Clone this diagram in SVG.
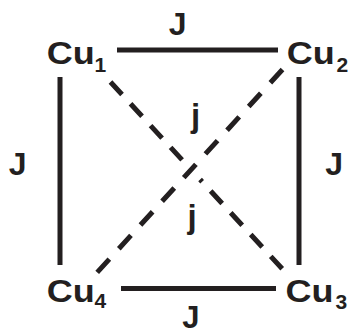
<svg xmlns="http://www.w3.org/2000/svg" width="351" height="334" viewBox="0 0 351 334">
<style>
.lbl{font-family:"Liberation Sans",Arial,sans-serif;font-weight:bold;fill:#231f20}
.cu{font-size:31px}
.sub{font-size:21px}
.J{font-size:32px;text-anchor:middle}
.j{font-size:33px;text-anchor:middle}
.solid{stroke:#231f20;stroke-width:5;fill:none}
.dash{stroke:#231f20;stroke-width:5;fill:none;stroke-linecap:butt}
</style>
<rect width="351" height="334" fill="#ffffff"/>
<g id="connectors">
  <line class="solid" x1="117" y1="50" x2="278" y2="50"/>
  <line class="solid" x1="121" y1="288.5" x2="276" y2="288.5"/>
  <line class="solid" x1="60" y1="77" x2="60" y2="265"/>
  <line class="solid" x1="299" y1="77" x2="299" y2="265"/>
  <line class="dash" x1="110.5" y1="82" x2="282.2" y2="268.8" stroke-dasharray="17 12.6 17 12.6 17 12.6 17 26.6 3 12.6 17 12.6 17 12.6 17 12.6 17"/>
  <line class="dash" x1="282.5" y1="69.5" x2="97.2" y2="272.4" stroke-dasharray="18 14.1"/>
</g>
<g id="Cu1">
  <text class="lbl cu" x="46.8" y="63.8" textLength="48" lengthAdjust="spacingAndGlyphs">Cu</text>
  <text class="lbl sub" x="94.5" y="71.5">1</text>
</g>
<g id="Cu2">
  <text class="lbl cu" x="286.8" y="63.8" textLength="48" lengthAdjust="spacingAndGlyphs">Cu</text>
  <text class="lbl sub" x="336.6" y="71.5">2</text>
</g>
<g id="Cu3">
  <text class="lbl cu" x="285.4" y="301.8" textLength="48" lengthAdjust="spacingAndGlyphs">Cu</text>
  <text class="lbl sub" x="335.4" y="308.5">3</text>
</g>
<g id="Cu4">
  <text class="lbl cu" x="46.8" y="301.8" textLength="48" lengthAdjust="spacingAndGlyphs">Cu</text>
  <text class="lbl sub" x="94.6" y="308.3">4</text>
</g>
<g id="labels">
  <text class="lbl J" x="177.6" y="35.2">J</text>
  <text class="lbl J" x="17.6" y="174.5">J</text>
  <text class="lbl J" x="334.2" y="174.5">J</text>
  <text class="lbl J" x="190.9" y="327.5" style="font-size:31px">J</text>
  <text class="lbl j" x="195.5" y="126.6">j</text>
  <text class="lbl j" x="192" y="228.3">j</text>
</g>
</svg>
